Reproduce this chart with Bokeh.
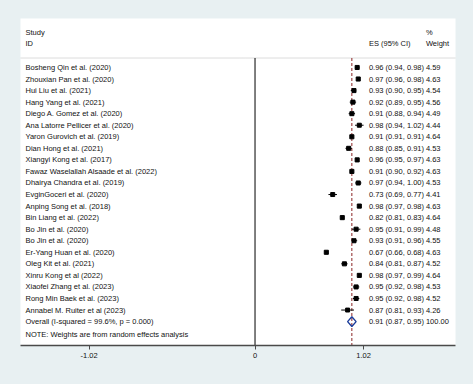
from bokeh.plotting import figure
from bokeh.models import Range1d, FixedTicker, ColumnDataSource
from bokeh.core.properties import value
from bokeh.embed import file_html
from bokeh.resources import INLINE

studies = [
    "Bosheng Qin et al. (2020)", "Zhouxian Pan et al. (2020)", "Hui Liu et al. (2021)",
    "Hang Yang et al. (2021)", "Diego A. Gomez et al. (2020)", "Ana Latorre Pellicer et al. (2020)",
    "Yaron Gurovich et al. (2019)", "Dian Hong et al. (2021)", "Xiangyi Kong et al. (2017)",
    "Fawaz Waselallah Alsaade et al. (2022)", "Dhairya Chandra et al. (2019)", "EvginGoceri et al. (2020)",
    "Anping Song et al. (2018)", "Bin Liang et al. (2022)", "Bo Jin et al. (2020)", "Bo Jin et al. (2020)",
    "Er-Yang Huan et al. (2020)", "Oleg Kit et al. (2021)", "Xinru Kong et al (2022)",
    "Xiaofei Zhang et al. (2023)", "Rong Min Baek et al. (2023)", "Annabel M. Ruiter et al (2023)",
]
es = [0.96, 0.97, 0.93, 0.92, 0.91, 0.98, 0.91, 0.88, 0.96, 0.91, 0.97, 0.73,
      0.98, 0.82, 0.95, 0.93, 0.67, 0.84, 0.98, 0.95, 0.95, 0.87]
lo = [0.94, 0.96, 0.90, 0.89, 0.88, 0.94, 0.91, 0.85, 0.95, 0.90, 0.94, 0.69,
      0.97, 0.81, 0.91, 0.91, 0.66, 0.81, 0.97, 0.92, 0.92, 0.81]
hi = [0.98, 0.98, 0.95, 0.95, 0.94, 1.02, 0.91, 0.91, 0.97, 0.92, 1.00, 0.77,
      0.98, 0.83, 0.99, 0.96, 0.68, 0.87, 0.99, 0.98, 0.98, 0.93]
weights = [4.59, 4.63, 4.54, 4.56, 4.49, 4.44, 4.64, 4.53, 4.63, 4.63, 4.53, 4.41,
           4.63, 4.64, 4.48, 4.55, 4.63, 4.52, 4.64, 4.53, 4.52, 4.26]
overall_label = "Overall  (I-squared = 99.6%, p = 0.000)"
overall_es, overall_lo, overall_hi, overall_w = 0.91, 0.87, 0.95, 100.00
note = "NOTE: Weights are from random effects analysis"
tick_pos = [-1.56, 0, 1.02]
tick_labels = ["-1.02", "0", "1.02"]

BG = "#E8F0F2"
FONT = "Liberation Sans"
FS = "7.5px"
TXT = "#111111"

n = len(studies)
rows = list(range(n))
ov_row = n

X0, X1 = -2.204, 1.884
Y_BOT, Y_TOP = 24.07, -4.24
X_STUDY, X_ES, X_W = -2.157, 1.0705, 1.606
SEP = -0.82

p = figure(width=473, height=384, output_backend="svg", toolbar_location=None,
           x_range=Range1d(X0, X1), y_range=Range1d(Y_BOT, Y_TOP),
           min_border_left=20, min_border_right=18, min_border_top=18, min_border_bottom=39,
           background_fill_color="white", border_fill_color=BG, outline_line_color=None)
p.grid.visible = False
p.yaxis.visible = False

ax = p.xaxis[0]
ax.ticker = FixedTicker(ticks=tick_pos)
ax.major_label_overrides = {t: l for t, l in zip(tick_pos, tick_labels)}
ax.minor_tick_line_color = None
ax.major_tick_in = 0
ax.major_tick_out = 4
ax.axis_line_color = "#4A4A4A"
ax.axis_line_width = 1.6
ax.major_tick_line_color = "#4A4A4A"
ax.major_label_text_font = FONT
ax.major_label_text_font_size = FS
ax.major_label_text_color = TXT
ax.major_label_standoff = 3

# header separator
p.segment(x0=[X0], x1=[X1], y0=[SEP], y1=[SEP], line_color="#B8B8B8", line_dash="1 1", line_width=1)
# null line
p.segment(x0=[0], x1=[0], y0=[SEP], y1=[Y_BOT], line_color="black", line_width=1)
# overall effect line
p.segment(x0=[overall_es], x1=[overall_es], y0=[SEP], y1=[Y_BOT], line_color="#8B2525",
          line_dash="3 2", line_width=1)

src = ColumnDataSource(dict(
    y=rows, es=es, lo=lo, hi=hi, name=studies,
    size=[w ** 0.5 * 1.9 for w in weights],
    estxt=[f"{e:.2f} ({l:.2f}, {h:.2f})" for e, l, h in zip(es, lo, hi)],
    wtxt=[f"{w:.2f}" for w in weights],
))
p.segment(x0="lo", x1="hi", y0="y", y1="y", source=src, line_color="black", line_width=1)
p.scatter(x="es", y="y", size="size", marker="square", source=src,
          fill_color="black", line_color="black")

# overall diamond
h = 0.42
p.patch(x=[overall_lo, overall_es, overall_hi, overall_es, overall_lo],
        y=[ov_row, ov_row - h, ov_row, ov_row + h, ov_row],
        fill_color=None, line_color="#1C3D9B", line_width=1.4)

tk = dict(text_font=value(FONT), text_font_size=FS, text_color=TXT,
          text_baseline="middle", text_align="left")
p.text(x=X_STUDY, y="y", text="name", source=src, **tk)
p.text(x=X_ES, y="y", text="estxt", source=src, **tk)
p.text(x=X_W, y="y", text="wtxt", source=src, **tk)

p.text(x=[X_STUDY, X_ES, X_W], y=[ov_row] * 3,
       text=[overall_label, f"{overall_es:.2f} ({overall_lo:.2f}, {overall_hi:.2f})", f"{overall_w:.2f}"], **tk)
p.text(x=[X_STUDY], y=[23.1], text=[note], **tk)
p.text(x=[X_STUDY, X_STUDY, X_ES, X_W, X_W], y=[-3.03, -2.08, -2.08, -3.03, -2.08],
       text=["Study", "ID", "ES (95% CI)", "%", "Weight"], **tk)

html = file_html(p, INLINE)
html = html.replace("</head>", f"<style>html,body{{margin:0;padding:0;background:{BG};}}</style></head>")
open("out.html", "w").write(html)
